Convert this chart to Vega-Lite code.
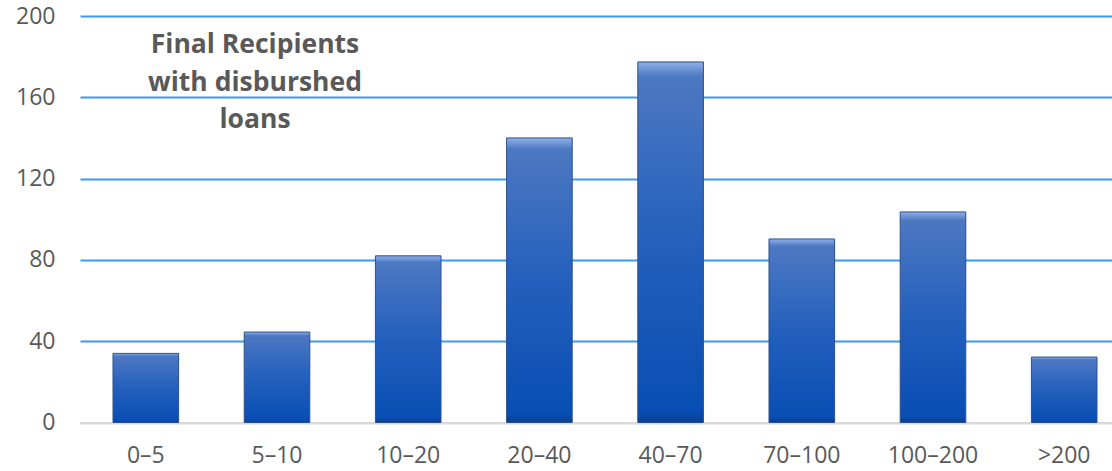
{
  "$schema": "https://vega.github.io/schema/vega-lite/v6.json",
  "width": 1032,
  "height": 406.5,
  "autosize": {"type": "none"},
  "padding": {"left": 80, "top": 16, "right": 0, "bottom": 48},
  "background": "white",
  "config": {"view": {"stroke": null}, "font": "Open Sans"},
  "datasets": {
    "bars": [
      {"range": "0–5", "count": 34},
      {"range": "5–10", "count": 44.5},
      {"range": "10–20", "count": 82},
      {"range": "20–40", "count": 140},
      {"range": "40–70", "count": 177.4},
      {"range": "70–100", "count": 90.3},
      {"range": "100–200", "count": 103.6},
      {"range": ">200", "count": 32.2}
    ],
    "note": [
      {"label": ["Final Recipients", "with disburshed", "loans"], "range": "5–10", "count": 185.5}
    ]
  },
  "layer": [
    {
      "data": {"name": "bars"},
      "mark": {
        "type": "bar",
        "stroke": "#2b4f8c",
        "strokeWidth": 1,
        "color": {
          "gradient": "linear",
          "x1": 0, "y1": 0, "x2": 0, "y2": 1,
          "stops": [
            {"offset": 0, "color": "#8fb0e8"},
            {"offset": 0.04, "color": "#4d78c2"},
            {"offset": 0.5, "color": "#2460bd"},
            {"offset": 0.97, "color": "#084eb3"},
            {"offset": 1, "color": "#0a3f8f"}
          ]
        }
      },
      "encoding": {
        "x": {
          "field": "range",
          "type": "nominal",
          "sort": null,
          "scale": {"paddingInner": 0.5, "paddingOuter": 0.183, "align": 0.6875},
          "axis": {
            "title": null,
            "labelAngle": 0,
            "ticks": false,
            "domain": true,
            "domainColor": "#d9d9d9",
            "domainWidth": 2,
            "labelFont": "Open Sans",
            "labelFontSize": 23,
            "labelColor": "#595959",
            "labelPadding": 22
          }
        },
        "y": {
          "field": "count",
          "type": "quantitative",
          "scale": {"domain": [0, 200]},
          "axis": {
            "title": null,
            "values": [0, 40, 80, 120, 160, 200],
            "ticks": false,
            "domain": false,
            "grid": true,
            "gridColor": {"condition": {"test": "datum.value === 0", "value": "#d9d9d9"}, "value": "#3a9af2"},
            "gridWidth": 2,
            "labelFont": "Open Sans",
            "labelFontSize": 23,
            "labelColor": "#595959",
            "labelPadding": 25
          }
        }
      }
    },
    {
      "data": {"name": "note"},
      "mark": {
        "type": "text",
        "font": "Open Sans",
        "fontSize": 26.5,
        "fontWeight": "bold",
        "color": "#595959",
        "align": "center",
        "baseline": "middle",
        "lineHeight": 37.5,
        "dx": -22
      },
      "encoding": {
        "x": {"field": "range", "type": "nominal", "sort": null},
        "y": {"field": "count", "type": "quantitative"},
        "text": {"field": "label"}
      }
    }
  ]
}
